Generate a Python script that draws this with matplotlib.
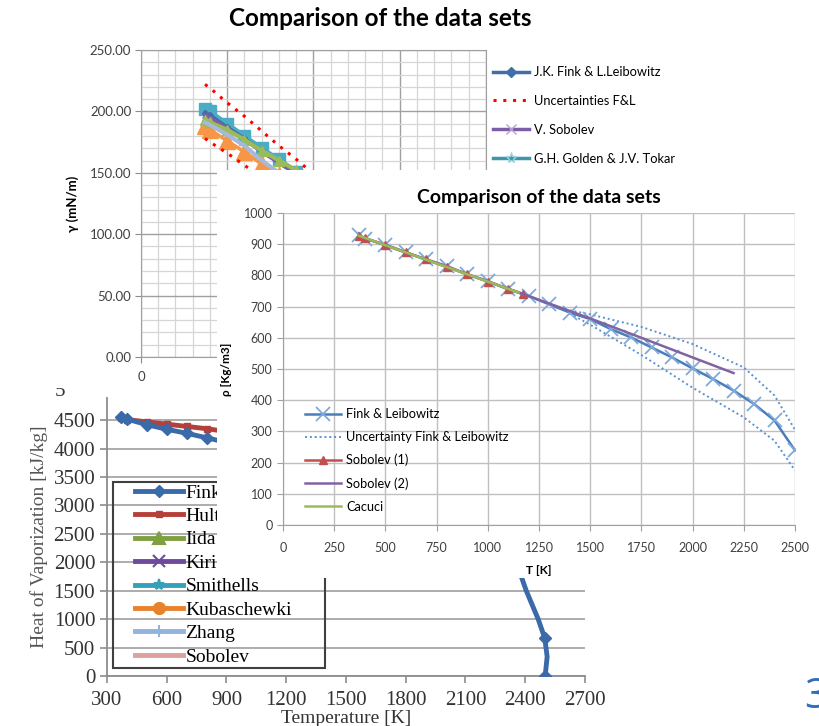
import matplotlib
matplotlib.use('Agg')
import matplotlib.pyplot as plt
from matplotlib.lines import Line2D
from matplotlib.ticker import FormatStrFormatter, MultipleLocator

W, H = 820, 726

# --- surface tension chart (top, mostly covered) ---
st_T = [371, 400, 500, 600, 700, 800, 900, 1000]
st_fink = [199, 197, 187, 178, 168, 158, 149, 139]
st_unc_hi = [222, 219, 207, 196, 184, 172, 161, 149]
st_unc_lo = [178, 175, 166, 156, 147, 137, 128, 118]
st_sobolev = [197, 195, 186, 177, 167, 158, 149, 140]
st_golden = [202, 200, 190, 180, 170, 161, 151, 142]
st_green = [193, 191, 185, 177, 168, 160, 152, 144]
st_orange = [188, 185, 176, 167, 157, 148, 139, 130]
st_grey = [191, 189, 181, 172, 160, 150, 141, 132]
st_labels = ['J.K. Fink & L.Leibowitz', 'Uncertainties F&L', 'V. Sobolev',
             'G.H. Golden & J.V. Tokar']

# --- density chart (middle) ---
rho_T = [371, 400, 500, 600, 700, 800, 900, 1000, 1100, 1200, 1300, 1400,
         1500, 1600, 1700, 1800, 1900, 2000, 2100, 2200, 2300, 2400, 2500]
rho_fink = [928, 918, 899, 874, 851, 830, 803, 782, 755, 734, 707, 681,
            660, 628, 601, 569, 537, 502, 468, 431, 388, 335, 239]
unc_T = [1400, 1500, 1750, 2000, 2250, 2400, 2500]
rho_unc_hi = [688, 675, 635, 580, 505, 415, 305]
rho_unc_lo = [678, 642, 545, 440, 345, 270, 175]
sob1_T = [371, 400, 500, 600, 700, 800, 900, 1000, 1100, 1170]
rho_sob1 = [926, 920, 897, 874, 851, 828, 804, 780, 757, 741]
sob2_T = [371, 1170, 1500, 1750, 2000, 2200]
rho_sob2 = [926, 741, 662, 600, 537, 487]
cac_T = [371, 1150]
rho_cac = [927, 745]
rho_labels = ['Fink & Leibowitz', 'Uncertainty Fink & Leibowitz', 'Sobolev (1)',
              'Sobolev (2)', 'Cacuci']

# --- heat of vaporization chart (bottom, partly covered) ---
hv_T_fink = [371, 400, 500, 600, 700, 800, 900, 1000, 1200, 1400, 1600, 1800,
             2000, 2200, 2300, 2380, 2405, 2465, 2498, 2510, 2500]
hv_fink = [4560, 4520, 4420, 4340, 4270, 4190, 4110, 4030, 3870, 3700, 3520,
           3310, 3060, 2720, 2300, 1750, 1500, 1000, 665, 340, 0]
hv_T_hult = [371, 400, 500, 600, 700, 800, 900]
hv_hult = [4530, 4510, 4470, 4430, 4390, 4350, 4300]
hv_labels = ['Fink', 'Hult', 'Iida', 'Kiri', 'Smithells', 'Kubaschewki',
             'Zhang', 'Sobolev']


def box(l, t, r, b):
    return [l / W, 1 - b / H, (r - l) / W, (b - t) / H]


fig = plt.figure(figsize=(8.2, 7.26), dpi=100)
sans = 'Lato'
serif = 'Liberation Serif'

# ================= bottom chart =================
ax_h = fig.add_axes(box(107, 398, 585, 676))
ax_h.set_zorder(1)
ax_h.set_xlim(300, 2700)
ax_h.set_ylim(0, 4890)
ax_h.set_xticks(range(300, 2701, 300))
ax_h.set_yticks(range(0, 4501, 500))
ax_h.yaxis.grid(True, color='#a6a6a6', lw=1.3)
ax_h.set_axisbelow(True)
for s in ['top', 'right']:
    ax_h.spines[s].set_visible(False)
for s in ['left', 'bottom']:
    ax_h.spines[s].set_color('#8c8c8c')
    ax_h.spines[s].set_linewidth(1.3)
ax_h.tick_params(colors='#8c8c8c', length=5, width=1.2, labelcolor='#333333',
                 labelsize=15)
ax_h.tick_params(axis='x', pad=6)
for lab in ax_h.get_xticklabels() + ax_h.get_yticklabels():
    lab.set_family(serif)
ax_h.set_xlabel('Temperature [K]', family=serif, fontsize=14, color='#333333',
                labelpad=0)
ax_h.set_ylabel('Heat of Vaporization [kJ/kg]', family=serif, fontsize=14,
                color='#555555', labelpad=4)

mark_idx = [i for i in range(len(hv_T_fink)) if i not in (15, 16, 17, 19)]
ax_h.plot(hv_T_fink, hv_fink, color='#3a6aa8', lw=3.5, marker='D', ms=6,
          markevery=mark_idx, label='Fink', zorder=3)
ax_h.plot(hv_T_hult, hv_hult, color='#b5403a', lw=3.5, marker='s', ms=4,
          label='Hult', zorder=2)
hv_styles = [('#7ea040', '^'), ('#6e4b9a', 'x'), ('#35a0b8', '*'),
             ('#e8832c', 'o'), ('#93b3dc', '+'), ('#dda0a0', None)]
for lab, (c, m) in zip(hv_labels[2:], hv_styles):
    ax_h.plot([], [], color=c, lw=3.5, marker=m, ms=8, mew=1.5, label=lab)
ax_h.add_patch(plt.Rectangle((113 / W, 1 - 668 / H), 212 / W, 186 / H,
                             transform=fig.transFigure, fill=False,
                             edgecolor='#404040', lw=1.5, clip_on=False))
ax_h.legend(loc='upper left', bbox_to_anchor=(135 / W, 1 - 484 / H),
            bbox_transform=fig.transFigure, prop={'family': serif, 'size': 14},
            frameon=False, handlelength=2.45, handletextpad=0.15,
            labelspacing=0.3, borderpad=0, borderaxespad=0)
fig.text(55 / W, 1 - 392 / H, '5', family=serif, fontsize=15, color='#333333',
         va='center', ha='left', zorder=1.5)

# ================= top chart =================
pan_top = fig.add_axes(box(0, 0, 820, 388))
pan_top.set_zorder(2)
pan_top.axis('off')
pan_top.add_patch(plt.Rectangle((0, 0), 1, 1, color='white',
                                transform=pan_top.transAxes))

ax_s = fig.add_axes(box(141, 50, 486, 357))
ax_s.set_zorder(3)
ax_s.set_facecolor('none')
ax_s.set_xlim(0, 2000)
ax_s.set_ylim(0, 250)
ax_s.xaxis.set_major_locator(MultipleLocator(500))
ax_s.xaxis.set_minor_locator(MultipleLocator(100))
ax_s.yaxis.set_major_locator(MultipleLocator(50))
ax_s.yaxis.set_minor_locator(MultipleLocator(10))
ax_s.yaxis.set_major_formatter(FormatStrFormatter('%.2f'))
ax_s.grid(which='major', color='#a0a0a0', lw=1.0)
ax_s.grid(which='minor', color='#d6d6d6', lw=0.9)
ax_s.set_axisbelow(True)
for s in ax_s.spines.values():
    s.set_color('#a0a0a0')
ax_s.tick_params(which='major', colors='#8c8c8c', length=4, labelcolor='#404040',
                 labelsize=9.5, pad=3)
ax_s.tick_params(axis='x', pad=6)
ax_s.tick_params(which='minor', length=0)
for lab in ax_s.get_xticklabels() + ax_s.get_yticklabels():
    lab.set_family(sans)
ax_s.set_ylabel('\u03b3 (mN/m)', family=sans, fontsize=9.5, fontweight='bold',
                labelpad=8)

ax_s.plot(st_T, st_orange, color='#f79646', lw=2.5, marker='^', ms=11, zorder=2)
ax_s.plot(st_T, st_golden, color='#4bacc6', lw=3, marker='s', ms=9, zorder=3)
ax_s.plot(st_T, st_fink, color='#3f6ea8', lw=2.5, marker='D', ms=3, zorder=4)
ax_s.plot(st_T, st_sobolev, color='#7b5ea7', lw=2.5, marker='x', ms=4, zorder=4)
ax_s.plot(st_T, st_green, color='#9bbb59', lw=3, marker='^', ms=7, zorder=5)
ax_s.plot(st_T, st_grey, color='#a7b9d9', lw=3, zorder=6)
ax_s.plot(st_T, st_unc_hi, color='#ff0000', lw=2.2, ls=(0, (1, 2.2)), zorder=6)
ax_s.plot(st_T, st_unc_lo, color='#ff0000', lw=2.2, ls=(0, (1, 2.2)), zorder=6)

st_handles = [
    Line2D([], [], color='#3f6ea8', lw=2.5, marker='D', ms=5),
    Line2D([], [], color='#ff0000', lw=2.2, ls=(0, (1, 2.2))),
    Line2D([], [], color='#7b5ea7', lw=2.5, marker='x', ms=7, mec='#b3a2cc'),
    Line2D([], [], color='#3f96aa', lw=2.5, marker='*', ms=8, mec='#9fd3e0'),
]
ax_s.legend(st_handles, st_labels, loc='upper left',
            bbox_to_anchor=(488 / W, 1 - 61 / H), bbox_transform=fig.transFigure,
            prop={'family': sans, 'size': 9.3}, frameon=False,
            handlelength=2.8, handletextpad=0.4, labelspacing=1.3, borderaxespad=0)

fig.text(380 / W, 1 - 18 / H, 'Comparison of the data sets', family=sans,
         fontsize=17.5, fontweight='bold', ha='center', va='center', zorder=3.5)

# ================= density chart =================
pan_rho = fig.add_axes(box(217, 170, 820, 578))
pan_rho.set_zorder(4)
pan_rho.axis('off')
pan_rho.add_patch(plt.Rectangle((0, 0), 1, 1, color='white',
                                transform=pan_rho.transAxes))

ax_r = fig.add_axes(box(283, 213, 795, 525))
ax_r.set_zorder(5)
ax_r.set_facecolor('none')
ax_r.set_xlim(0, 2500)
ax_r.set_ylim(0, 1000)
ax_r.set_xticks(range(0, 2501, 250))
ax_r.set_yticks(range(0, 1001, 100))
ax_r.grid(True, color='#c0c0c0', lw=1.0)
ax_r.set_axisbelow(True)
for s in ['top', 'right']:
    ax_r.spines[s].set_visible(False)
for s in ['left', 'bottom']:
    ax_r.spines[s].set_color('#a0a0a0')
ax_r.tick_params(colors='#a0a0a0', length=4, labelcolor='#404040', labelsize=9)
ax_r.tick_params(axis='x', pad=8)
for lab in ax_r.get_xticklabels() + ax_r.get_yticklabels():
    lab.set_family(sans)
ax_r.set_xlabel('T [K]', family=sans, fontsize=8.5, fontweight='bold', labelpad=8)
ax_r.set_ylabel('\u03c1 [Kg/m3]', family=sans, fontsize=8.5, fontweight='bold',
                labelpad=8)
ax_r.set_title('Comparison of the data sets', family=sans, fontsize=14,
               fontweight='bold', pad=7)

ax_r.plot(rho_T, rho_fink, color='#4a7ebb', lw=1.8, marker='x', ms=10, mew=1.3,
          mec='#7ea9dc', label=rho_labels[0], zorder=3)
ax_r.plot(unc_T, rho_unc_hi, color='#5b8fcf', lw=1.4, ls=(0, (1, 1.5)),
          label=rho_labels[1], zorder=2)
ax_r.plot(unc_T, rho_unc_lo, color='#5b8fcf', lw=1.4, ls=(0, (1, 1.5)), zorder=2)
ax_r.plot(sob1_T, rho_sob1, color='#c0504d', lw=1.8, marker='^', ms=6,
          label=rho_labels[2], zorder=4)
ax_r.plot(sob2_T, rho_sob2, color='#8064a2', lw=1.8, label=rho_labels[3], zorder=5)
ax_r.plot(cac_T, rho_cac, color='#9bbb59', lw=1.8, label=rho_labels[4], zorder=6)
ax_r.legend(loc='upper left', bbox_to_anchor=(300 / W, 1 - 403 / H),
            bbox_transform=fig.transFigure, prop={'family': sans, 'size': 9.2},
            frameon=False, handlelength=2.8, handletextpad=0.4, labelspacing=0.85,
            borderaxespad=0)

# slide number
fig.text(804 / W, 1 - 697 / H, '3', family='Open Sans', fontsize=30,
         color='#2f6eba', ha='left', va='center', zorder=10)

fig.savefig('out.png', dpi=100)
